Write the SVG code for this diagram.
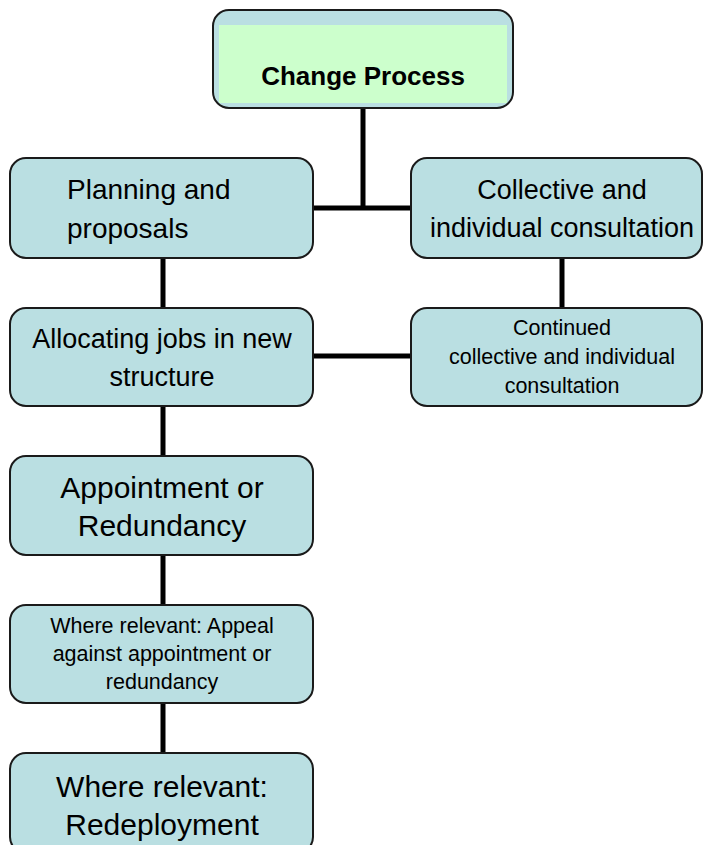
<svg xmlns="http://www.w3.org/2000/svg" width="704" height="845" viewBox="0 0 704 845">
<style>
.box{fill:#badfe2;stroke:#1a1a1a;stroke-width:2}
.t{font-family:"Liberation Sans",Arial,sans-serif;fill:#000;text-anchor:middle}
.st{text-anchor:start}
.c{stroke:#000;stroke-width:5;fill:none}
</style>
<rect width="704" height="845" fill="#fff"/>
<g id="connectors">
<path class="c" d="M363 108V208M313 208H411"/>
<path class="c" d="M163 258V308M163 406V456M163 555V605M163 703V753"/>
<path class="c" d="M562 258V308M313 356H411"/>
</g>
<g id="change-process">
<rect class="box" x="213" y="10" width="300" height="98" rx="16"/>
<rect x="219" y="25" width="288" height="78" fill="#ccffcc"/>
<text class="t" x="363" y="85" font-size="26" font-weight="bold">Change Process</text>
</g>
<g id="planning">
<rect class="box" x="10" y="158" width="303" height="100" rx="16"/>
<text class="t st" x="67" y="199" font-size="28">Planning and</text>
<text class="t st" x="67" y="238" font-size="28">proposals</text>
</g>
<g id="collective">
<rect class="box" x="411" y="158" width="291" height="100" rx="16"/>
<text class="t" x="562" y="199" font-size="27">Collective and</text>
<text class="t" x="562" y="237" font-size="27">individual consultation</text>
</g>
<g id="allocating">
<rect class="box" x="10" y="308" width="303" height="98" rx="16"/>
<text class="t" x="162" y="348" font-size="27">Allocating jobs in new</text>
<text class="t" x="162" y="386" font-size="27">structure</text>
</g>
<g id="continued">
<rect class="box" x="411" y="308" width="291" height="98" rx="16"/>
<text class="t" x="562" y="335" font-size="21.5">Continued</text>
<text class="t" x="562" y="364" font-size="21.5">collective and individual</text>
<text class="t" x="562" y="393" font-size="21.5">consultation</text>
</g>
<g id="appointment">
<rect class="box" x="10" y="456" width="303" height="99" rx="16"/>
<text class="t" x="162" y="498" font-size="30">Appointment or</text>
<text class="t" x="162" y="536" font-size="30">Redundancy</text>
</g>
<g id="appeal">
<rect class="box" x="10" y="605" width="303" height="98" rx="16"/>
<text class="t" x="162" y="633" font-size="21.5">Where relevant: Appeal</text>
<text class="t" x="162" y="661" font-size="21.5">against appointment or</text>
<text class="t" x="162" y="689" font-size="21.5">redundancy</text>
</g>
<g id="redeployment">
<rect class="box" x="10" y="753" width="303" height="100" rx="16"/>
<text class="t" x="162" y="797" font-size="30">Where relevant:</text>
<text class="t" x="162" y="835" font-size="30">Redeployment</text>
</g>
</svg>
